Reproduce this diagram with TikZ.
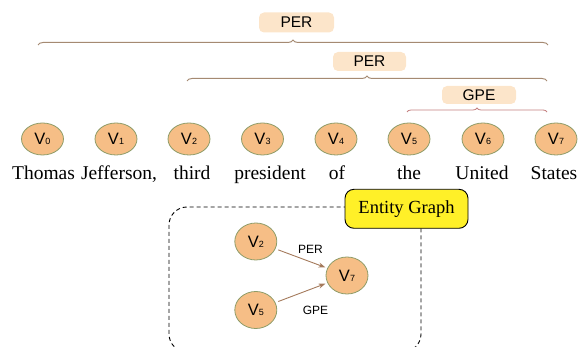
\documentclass[tikz,border=0pt]{standalone}
\usepackage{fontspec}
\setmainfont{Liberation Serif}
\newfontfamily\arialf{Liberation Sans}
\usetikzlibrary{shapes.geometric,decorations.pathreplacing,arrows.meta}
\definecolor{nodefill}{HTML}{F6BE86}
\definecolor{nodeedge}{HTML}{8E9C68}
\definecolor{tagfill}{HTML}{FCE5CA}
\definecolor{bracebrown}{HTML}{A58A72}
\definecolor{bracered}{HTML}{C48080}
\definecolor{arrowbrown}{HTML}{A47A5C}
\definecolor{egyellow}{HTML}{FFF028}
\newcommand{\Vn}[1]{V{\fontsize{9}{9}\selectfont #1}}
\begin{document}
\begin{tikzpicture}[x=1pt,y=-1pt,
 vnode/.style={ellipse,draw=nodeedge,fill=nodefill,line width=0.8pt,minimum width=42pt,minimum height=32pt,inner sep=0pt,font=\arialf\fontsize{16.5}{17}\selectfont},
 bignode/.style={vnode,minimum height=37pt},
 word/.style={anchor=base,font=\fontsize{19.5}{20}\selectfont,inner sep=0pt},
 tag/.style={rounded corners=5pt,fill=tagfill,minimum width=75pt,minimum height=20pt,inner sep=0pt,font=\arialf\fontsize{15.5}{16}\selectfont},
 tagbrace/.style={decorate,line width=1pt},
 rel/.style={-{Stealth[length=7pt,width=5pt]},draw=arrowbrown,line width=0.9pt,shorten <=3pt,shorten >=2pt},
 rellabel/.style={font=\arialf\fontsize{12}{13}\selectfont,inner sep=0pt}
]
\useasboundingbox (0,0) rectangle (579,347);

% sentence nodes
\foreach \i/\x/\w/\wx in {0/42.5/Thomas/43.5,1/116/{Jefferson,}/119,2/189/third/192,3/262.5/president/270,4/336/of/337,5/409/the/409,6/483/United/482,7/556/States/554}{
  \node[vnode] (v\i) at (\x,139) {\Vn{\i}};
  \node[word] (w\i) at (\wx,180) {\w};
}

% entity tags
\node[tag] (per1) at (296.5,22.5) {PER};
\node[tag,minimum width=73pt,minimum height=19pt] (per2) at (369.5,61.5) {PER};
\node[tag,minimum width=74pt,minimum height=18pt] (gpe) at (479,95) {GPE};

\coordinate (b1l) at (38,45);  \coordinate (b1r) at (548,45);
\coordinate (b2l) at (187,81); \coordinate (b2r) at (547,81);
\coordinate (b3l) at (407,112); \coordinate (b3r) at (547,112);
\draw[tagbrace,draw=bracebrown,decoration={brace,amplitude=5pt}] (b1l) -- (b1r);
\draw[tagbrace,draw=bracebrown,decoration={brace,amplitude=5pt}] (b2l) -- (b2r);
\draw[tagbrace,draw=bracered,line width=0.8pt,decoration={brace,amplitude=4pt}] (b3l) -- (b3r);

% entity graph frame
\draw[dash pattern=on 4pt off 3pt,line width=0.9pt,rounded corners=18pt] (169,207) rectangle (421,352);
\node[draw=black,fill=egyellow,rounded corners=9pt,line width=0.9pt,minimum width=123pt,minimum height=39pt,inner sep=0pt,font=\fontsize{18.5}{19}\selectfont] (eg) at (406.5,208.8) {Entity Graph};

% entity graph
\node[bignode] (g2) at (255.8,241.5) {\Vn{2}};
\node[bignode] (g5) at (255.8,310) {\Vn{5}};
\node[bignode] (g7) at (347,275.5) {\Vn{7}};
\draw[rel] (g2) -- (g7);
\draw[rel] (g5) -- (g7);
\node[rellabel] (lper) at (310.5,249.5) {PER};
\node[rellabel] (lgpe) at (315.5,310.5) {GPE};
\end{tikzpicture}
\end{document}
